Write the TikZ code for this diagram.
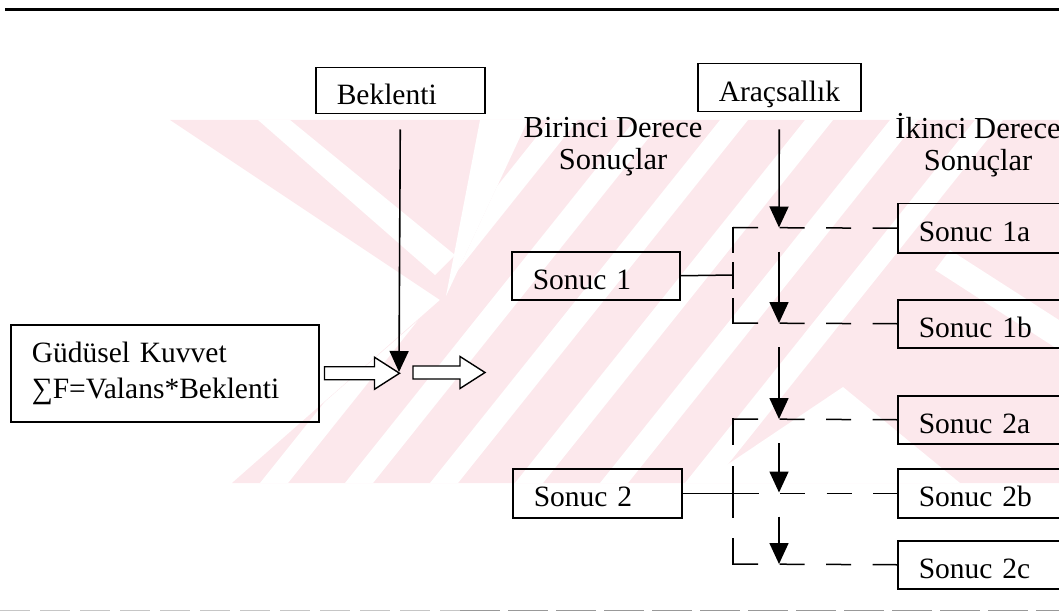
\documentclass[tikz,border=0pt]{standalone}
\usepackage{fontspec}
\setmainfont{Liberation Serif}
\usetikzlibrary{arrows.meta,calc}
\definecolor{wm}{RGB}{252,232,236}
\begin{document}
\begin{tikzpicture}[x=1pt,y=-1pt,
  every node/.style={font=\fontsize{29.5}{36}\selectfont},
  box/.style={draw, line width=1.5pt, rectangle, inner xsep=21pt, inner ysep=0pt,
    text height=27pt, text depth=0pt, align=left, anchor=north west},
  gbox/.style={draw, line width=1.5pt, rectangle, inner xsep=21pt, inner ysep=0pt,
    align=left, anchor=north west, minimum height=97pt, text width=266pt},
  lab/.style={align=center, inner sep=0pt, font=\fontsize{30.5}{32}\selectfont},
  arr/.style={line width=1.6pt, -{Triangle[width=19pt,length=21pt]}},
  conn/.style={line width=1.5pt},
  dh/.style={line width=1.5pt, dash pattern=on 25pt off 21.5pt},
  hollow/.style={draw, line width=1.4pt, fill=white, line join=miter}
]
\useasboundingbox (0,0) rectangle (1059,612);
\clip (0,0) rectangle (1059,612);
% watermark
\fill[wm] (170,120) -- (1059,120) -- (1059,483) -- (232,483) -- (440,300) -- cycle;
\fill[white] (258,120) -- (290,120) -- (455,255) -- (435,275) -- cycle;
\fill[white] (480,120) -- (528,120) -- (446,296) -- cycle;
\begin{scope}
  \clip (528,120) -- (1059,120) -- (1059,483) -- (232,483) -- (446,296) -- cycle;
  \foreach \s in {260,345,430,515,600,685}
    \fill[white] (\s,483) -- (\s+28,483) -- (\s+28+290,120) -- (\s+290,120) -- cycle;
\end{scope}
\fill[white] (843,387) -- (960,483) -- (700,483) -- cycle;
\fill[white] (950,250) -- (1059,320) -- (1059,350) -- (935,270) -- cycle;
% rules
\draw[line width=2.4pt] (5,9.5) -- (1059,9.5);
\draw[line width=1.6pt, gray!45, dash pattern=on 30pt off 10pt] (0,610.5) -- (460,610.5);
\draw[line width=1.6pt, gray!80, dash pattern=on 40pt off 8pt] (460,610.5) -- (1059,610.5);
% boxes
\node[box, minimum height=46pt, text width=127pt] (bek) at (315,67) {Beklenti};
\node[box, minimum height=48pt, text width=121pt] (arac) at (697,63) {Araçsallık};
\node[gbox] (gud) at (10,324) {Güdüsel Kuvvet\\∑F=Valans*Beklenti};
\node[box, minimum height=48pt, text width=126pt] (s1) at (511,251) {Sonuc 1};
\node[box, minimum height=49pt, text width=127pt] (s2) at (512,468) {Sonuc 2};
\node[box, minimum height=49pt, text width=160pt] (s1a) at (897,203) {Sonuc 1a};
\node[box, minimum height=48pt, text width=160pt] (s1b) at (897,299) {Sonuc 1b};
\node[box, minimum height=48pt, text width=160pt] (s2a) at (897,395) {Sonuc 2a};
\node[box, minimum height=49pt, text width=160pt] (s2b) at (897,468) {Sonuc 2b};
\node[box, minimum height=48pt, text width=160pt] (s2c) at (897,540) {Sonuc 2c};
% headings
\node[lab] (bir) at (613,147) {Birinci Derece\\Sonuçlar};
\node[lab] (iki) at (978,145) {İkinci Derece\\Sonuçlar};
% junction points
\coordinate (j) at (399,372);
\coordinate (t1a) at (779,227.5);
\coordinate (t1b) at (779,323);
\coordinate (t2a) at (779,419);
\coordinate (t2b) at (779,492.5);
\coordinate (t2c) at (779,564);
\coordinate (b1) at (733,275);
% expectancy arrow
\draw[arr] ($(bek.south)+(0,15)$) -- (j);
% hollow arrows
\draw[hollow] ($(gud.east)+(5,0)$) ++(0,-6.5) -- ++(50,0) -- ++(0,-9.5) -- ++(25,16)
  -- ++(-25,16) -- ++(0,-9.5) -- ++(-50,0) -- cycle;
\draw[hollow] ($(j)+(14,0.5)$) ++(0,-6.5) -- ++(47,0) -- ++(0,-9.5) -- ++(25,16)
  -- ++(-25,16) -- ++(0,-9.5) -- ++(-47,0) -- cycle;
% instrumentality arrows
\draw[arr] ($(arac.south)+(0,17)$) -- (t1a);
\draw[arr] ($(t1a)+(0,24)$) -- (t1b);
\draw[arr] ($(t1b)+(0,24)$) -- (t2a);
\draw[arr] ($(t2a)+(0,24)$) -- (t2b);
\draw[arr] ($(t2b)+(0,24)$) -- (t2c);
% group 1
\draw[conn] (s1.east) -- (b1);
\draw[conn, dash pattern=on 25pt off 10.5pt, line cap=rect] (t1a -| b1) -- (t1b -| b1);
\draw[dh] (t1a -| b1) -- (s1a.west);
\draw[dh] (t1b -| b1) -- (s1b.west);
% group 2
\draw[conn, dash pattern=on 25pt off 23pt on 50pt off 22pt on 25pt, line cap=rect] (t2a -| b1) -- (t2c -| b1);
\draw[dh] (t2a -| b1) -- (s2a.west);
\draw[conn, dash pattern=on 76pt off 21.5pt on 25pt off 21.5pt on 25pt off 21.5pt on 25pt] (s2.east) -- (s2b.west);
\draw[dh] (t2c -| b1) -- (s2c.west);
\end{tikzpicture}
\end{document}
